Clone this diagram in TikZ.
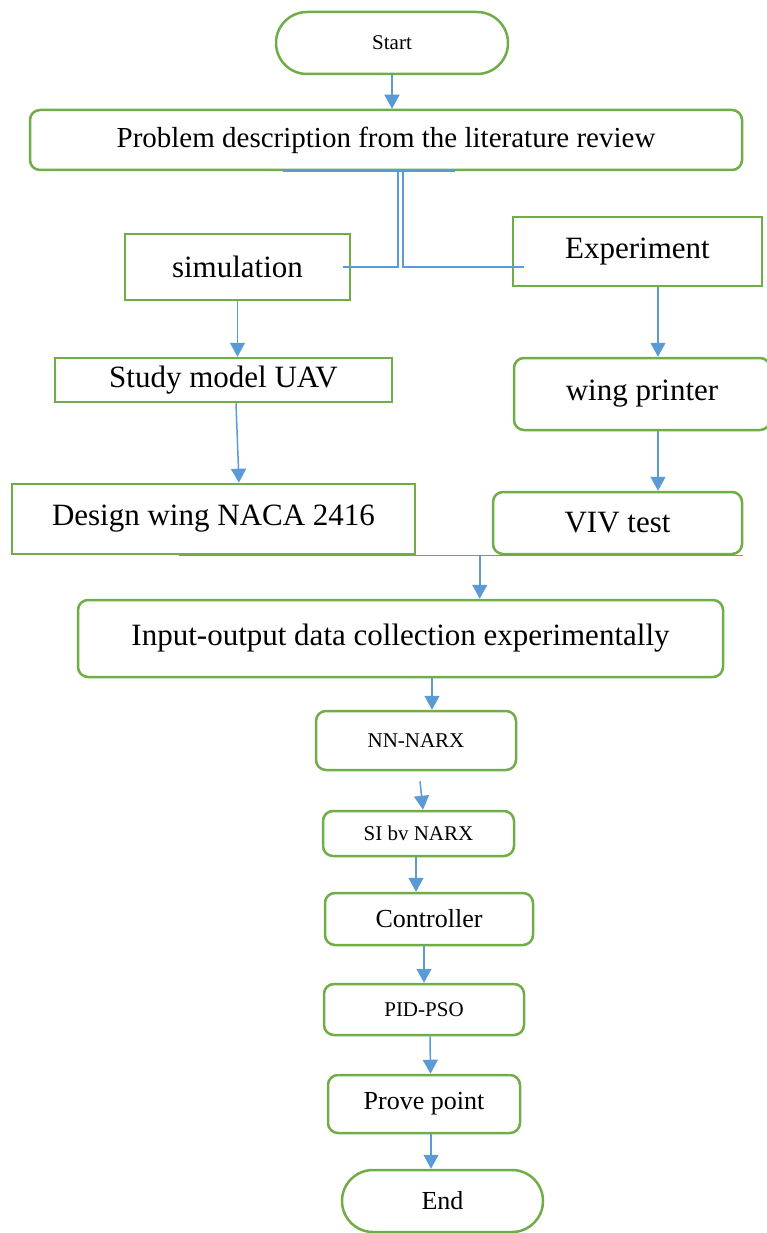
\documentclass[tikz,border=0pt]{standalone}
\usepackage{fontspec}
\setmainfont{Liberation Serif}
\usetikzlibrary{arrows.meta}
\definecolor{boxgreen}{HTML}{70AD47}
\definecolor{linkblue}{HTML}{5B9BD5}

\begin{document}
\begin{tikzpicture}[x=1pt, y=-1pt,
    blk/.style={draw=boxgreen, line width=2.5pt, inner sep=0pt, align=center},
    sq/.style={blk},
    rnd/.style={blk, rounded corners=10pt},
    term/.style={blk, rounded corners=31pt},
    txtbig/.style={font=\fontsize{31}{36}\selectfont},
    txtmid/.style={font=\fontsize{26}{30}\selectfont},
    txtsmall/.style={font=\fontsize{21}{25}\selectfont},
    link/.style={draw=linkblue, line width=1.5pt},
    flow/.style={link, -{Triangle[length=14pt,width=15pt]}}]
  \useasboundingbox (0,0) rectangle (766,1233);

  % boxes
  \node[term, txtsmall, minimum width=232pt, minimum height=62pt] (start) at (392,43) {Start};
  \node[rnd, font=\fontsize{29}{34}\selectfont, minimum width=712pt, minimum height=60pt] (prob) at (386,140) {Problem description from the literature review};
  \node[sq, txtbig, minimum width=225pt, minimum height=66pt] (sim) at (237.5,267) {simulation};
  \node[sq, txtbig, minimum width=249pt, minimum height=69pt] (exp) at (637.5,251.5) {Experiment};
  \node[sq, txtbig, minimum width=337pt, minimum height=44pt] (study) at (223.5,380) {Study model UAV};
  \node[rnd, txtbig, minimum width=256pt, minimum height=72pt] (wing) at (642,394) {wing printer};
  \node[sq, txtbig, minimum width=403pt, minimum height=70pt] (design) at (213.5,519) {Design wing NACA 2416};
  \node[rnd, txtbig, minimum width=249pt, minimum height=62pt] (viv) at (617.5,523) {VIV test};
  \node[rnd, txtbig, minimum width=645pt, minimum height=77pt] (io) at (400.5,638.5) {Input-output data collection experimentally};
  \node[rnd, txtsmall, minimum width=200pt, minimum height=59pt] (nn) at (416,740.5) {NN-NARX};
  \node[rnd, txtsmall, minimum width=191pt, minimum height=45pt] (si) at (418.5,833.5) {SI bv NARX};
  \node[rnd, txtmid, minimum width=208pt, minimum height=52pt] (ctrl) at (429,919) {Controller};
  \node[rnd, txtsmall, minimum width=200pt, minimum height=51pt] (pid) at (424,1009.5) {PID-PSO};
  \node[rnd, txtmid, minimum width=192pt, minimum height=58pt] (prove) at (424,1104) {Prove point};
  \node[term, txtmid, minimum width=201pt, minimum height=62pt] (end) at (442.5,1201) {End};

  % connectors
  \draw[flow] (start.south) -- (start.south |- prob.north);
  \draw[link] ([xshift=-103pt]prob.south) -- ([xshift=69pt]prob.south);
  \draw[link] ([xshift=12pt]prob.south) |- ([xshift=-8pt]sim.east);
  \draw[link] ([xshift=17pt]prob.south) |- ([xshift=12pt]exp.west |- sim.east);
  \draw[flow] (sim.south) -- (sim.south |- study.north);
  \draw[flow] ([xshift=12.5pt]study.south) -- ([xshift=25.5pt]design.north);
  \draw[flow] ([xshift=20.5pt]exp.south) -- ([xshift=20.5pt]exp.south |- wing.north);
  \draw[flow] ([xshift=16pt]wing.south) -- ([xshift=16pt]wing.south |- viv.north);
  \coordinate (join) at ([xshift=-12pt]viv.south west);
  \draw[link] ([xshift=-35pt]design.south) -- (viv.south east);
  \draw[flow] (join) -- (join |- io.north);
  \draw[flow] ([xshift=31.5pt]io.south) -- ([xshift=16pt]nn.north);
  \draw[flow] ([xshift=4pt,yshift=-10pt]nn.south) -- ([xshift=4.5pt]si.north);
  \draw[flow] ([xshift=-2.5pt]si.south) -- ([xshift=-13pt]ctrl.north);
  \draw[flow] ([xshift=-5pt]ctrl.south) -- (pid.north);
  \draw[flow] ([xshift=6pt]pid.south) -- ([xshift=6.5pt]prove.north);
  \draw[flow] ([xshift=7pt]prove.south) -- ([xshift=-11.5pt]end.north);
\end{tikzpicture}
\end{document}
